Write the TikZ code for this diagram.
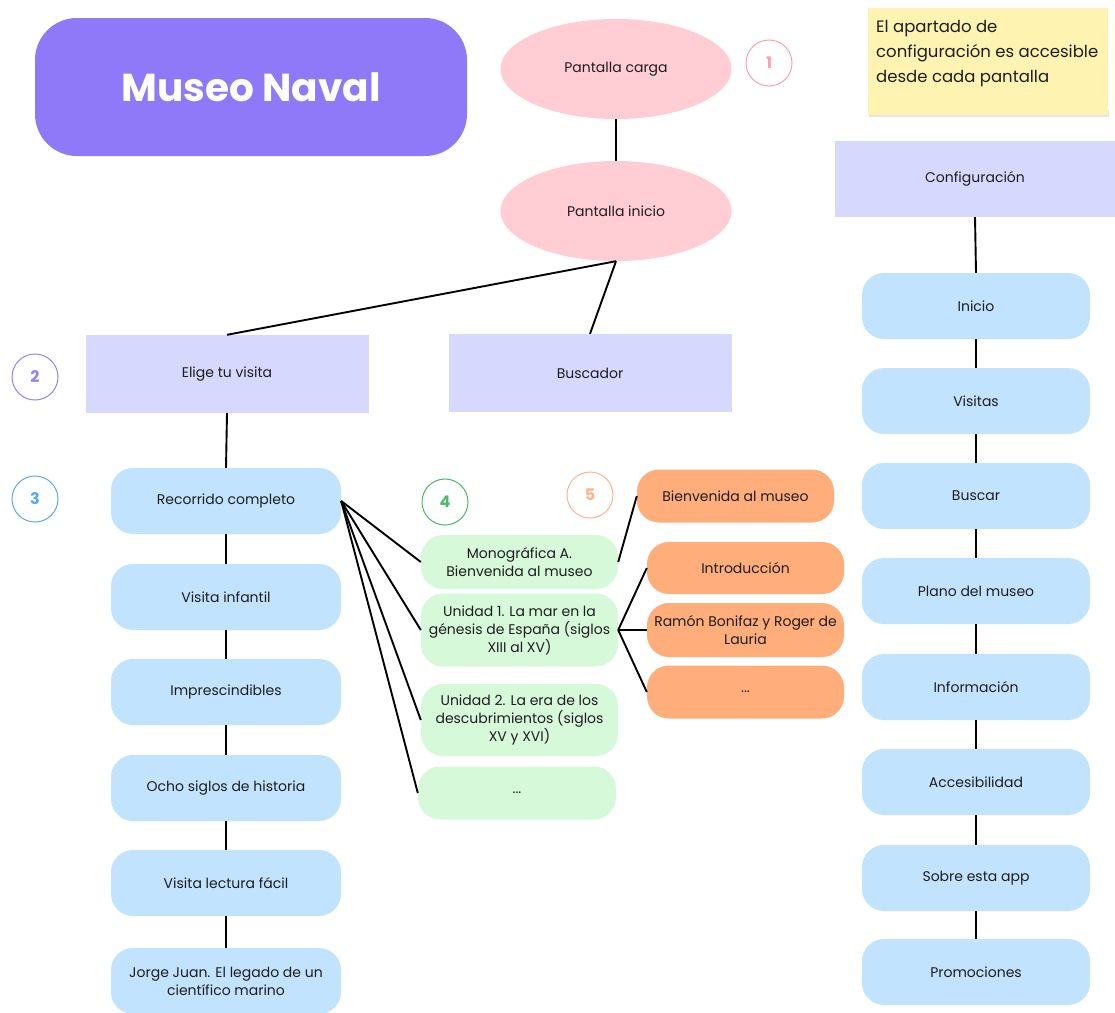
\documentclass[tikz,border=0pt]{standalone}
\usepackage{fontspec}
\setmainfont{Poppins}
\usetikzlibrary{shapes.geometric}
\definecolor{titlec}{RGB}{143,121,248}
\definecolor{pinkc}{RGB}{255,205,211}
\definecolor{lavc}{RGB}{214,216,253}
\definecolor{bluec}{RGB}{193,227,253}
\definecolor{greenc}{RGB}{214,249,218}
\definecolor{orangec}{RGB}{255,173,122}
\definecolor{stickyc}{RGB}{255,243,178}
\definecolor{txtc}{RGB}{30,30,30}
\definecolor{cone}{RGB}{255,160,170}
\definecolor{ctwo}{RGB}{150,130,245}
\definecolor{cthree}{RGB}{85,170,240}
\definecolor{cfour}{RGB}{75,185,105}
\definecolor{cfive}{RGB}{255,178,140}
\begin{document}
\begin{tikzpicture}[x=1pt,y=-1pt,
  every node/.style={text=txtc, font=\fontsize{14}{18}\selectfont},
  conn/.style={draw=black, line width=1.9pt},
  ell/.style={ellipse, fill=pinkc, minimum width=231pt, minimum height=100pt, inner sep=0pt},
  lav/.style={rectangle, fill=lavc, minimum width=283pt, minimum height=78pt, inner sep=0pt},
  bluebox/.style={rectangle, rounded corners=22pt, fill=bluec, minimum width=230pt, minimum height=66pt, align=center, inner sep=2pt},
  greenbox/.style={rectangle, rounded corners=22pt, fill=greenc, minimum width=197pt, align=center, inner sep=2pt},
  orangebox/.style={rectangle, rounded corners=22pt, fill=orangec, minimum width=197pt, minimum height=53pt, align=center, inner sep=2pt},
  numc/.style={circle, draw, line width=1pt, minimum size=46pt, inner sep=0pt, font=\fontsize{16}{18}\selectfont\bfseries}
]
\clip (0,0) rectangle (1115,1012);
\fill[white] (0,0) rectangle (1115,1012);

% title
\node[rectangle, rounded corners=42pt, fill=titlec, minimum width=432pt, minimum height=138pt, text=white, font=\fontsize{39}{44}\selectfont\bfseries] (title) at (251,87) {Museo Naval};

% sticky note
\fill[black!10] (869,110) rectangle (1109,117);
\node[rectangle, fill=stickyc, minimum width=240pt, minimum height=107pt, anchor=north west, inner sep=0pt] (sticky) at (868,8) {};
\node[anchor=north west, align=left, inner sep=0pt, font=\fontsize{16.5}{25}\selectfont] (stickytext) at (876,20) {El apartado de\\configuración es accesible\\desde cada pantalla};

% top ellipses
\node[ell] (pc) at (616,69) {Pantalla carga};
\node[ell] (pi) at (616,211) {Pantalla inicio};
\node[numc, draw=cone, text=cone] (n1) at (769,63) {1};

% second level
\node[lav] (elige) at (227,374) {Elige tu visita};
\node[lav] (busc) at (590,373) {Buscador};
\node[numc, draw=ctwo, text=ctwo] (n2) at (35,377) {2};

% configuracion
\node[lav, minimum width=281pt, minimum height=76pt] (conf) at (975,179) {Configuración};

% left column
\node[numc, draw=cthree, text=cthree] (n3) at (35,499) {3};
\node[bluebox] (rc) at (226,501) {Recorrido completo};
\node[bluebox] (vi) at (226,597) {Visita infantil};
\node[bluebox] (imp) at (226,692) {Imprescindibles};
\node[bluebox] (ocho) at (226,788) {Ocho siglos de historia};
\node[bluebox] (vlf) at (226,883) {Visita lectura fácil};
\node[bluebox] (jj) at (226,981) {Jorge Juan. El legado de un\\científico marino};

% right column
\node[bluebox, minimum width=228pt] (ini) at (976,306) {Inicio};
\node[bluebox, minimum width=228pt] (vis) at (976,401) {Visitas};
\node[bluebox, minimum width=228pt] (bus) at (976,496) {Buscar};
\node[bluebox, minimum width=228pt] (plano) at (976,591) {Plano del museo};
\node[bluebox, minimum width=228pt] (info) at (976,687) {Información};
\node[bluebox, minimum width=228pt] (acc) at (976,782) {Accesibilidad};
\node[bluebox, minimum width=228pt] (sobre) at (976,878) {Sobre esta app};
\node[bluebox, minimum width=228pt] (promo) at (976,972) {Promociones};

% green column
\node[numc, draw=cfour, text=cfour] (n4) at (445,502) {4};
\node[greenbox, minimum height=54pt] (mono) at (519.5,562) {Monográfica A.\\Bienvenida al museo};
\node[greenbox, minimum height=73pt] (u1) at (519.5,630) {Unidad 1. La mar en la\\génesis de España (siglos\\XIII al XV)};
\node[greenbox, minimum height=72pt] (u2) at (519.5,720) {Unidad 2. La era de los\\descubrimientos (siglos\\XV y XVI)};
\node[greenbox, minimum height=53pt, minimum width=198pt] (gd) at (517,793) {...};

% orange column
\node[numc, draw=cfive, text=cfive] (n5) at (590,495) {5};
\node[orangebox] (bien) at (735.5,496) {Bienvenida al museo};
\node[orangebox, minimum height=52pt] (intro) at (745.5,568) {Introducción};
\node[orangebox, minimum height=54pt] (ramon) at (745.5,630) {Ramón Bonifaz y Roger de\\Lauria};
\node[orangebox] (od) at (745.5,692) {...};

% connectors
\draw[conn] (pc.south) -- (pi.north);
\draw[conn] (pi.south) -- (elige.north);
\draw[conn] (pi.south) -- (busc.north);
\draw[conn] (elige.south) -- (rc.north);
\draw[conn] (rc.south) -- (vi.north);
\draw[conn] (vi.south) -- (imp.north);
\draw[conn] (imp.south) -- (ocho.north);
\draw[conn] (ocho.south) -- (vlf.north);
\draw[conn] (vlf.south) -- (jj.north);
\draw[conn] (conf.south) -- (ini.north);
\draw[conn] (ini.south) -- (vis.north);
\draw[conn] (vis.south) -- (bus.north);
\draw[conn] (bus.south) -- (plano.north);
\draw[conn] (plano.south) -- (info.north);
\draw[conn] (info.south) -- (acc.north);
\draw[conn] (acc.south) -- (sobre.north);
\draw[conn] (sobre.south) -- (promo.north);
\draw[conn] (rc.east) -- (mono.west);
\draw[conn] (rc.east) -- (u1.west);
\draw[conn] (rc.east) -- (u2.west);
\draw[conn] (rc.east) -- (gd.west);
\draw[conn] (mono.east) -- (bien.west);
\draw[conn] (u1.east) -- (intro.west);
\draw[conn] (u1.east) -- (ramon.west);
\draw[conn] (u1.east) -- (od.west);
\end{tikzpicture}
\end{document}
